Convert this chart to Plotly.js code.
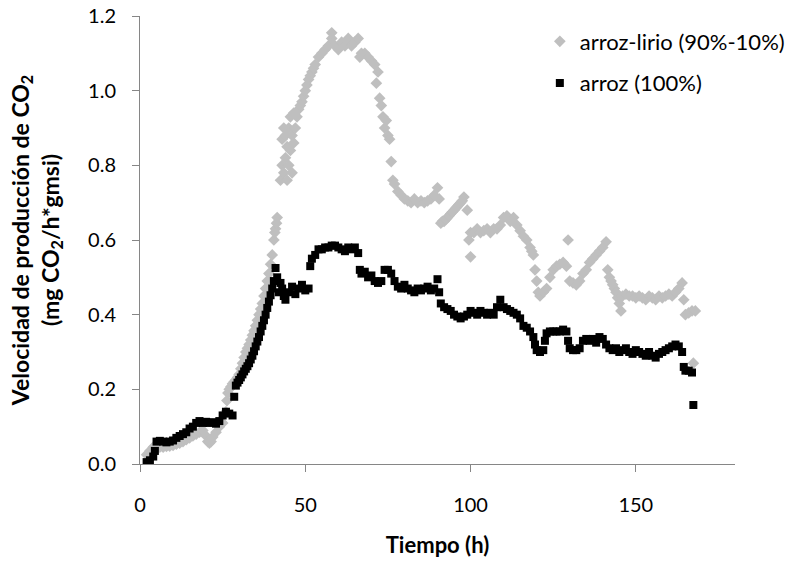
<!DOCTYPE html>
<html>
<head>
<meta charset="utf-8">
<script src="https://cdn.plot.ly/plotly-3.0.1.min.js"></script>
<style>html,body{margin:0;padding:0;background:#fff;}#chart{width:789px;height:567px;}</style>
</head>
<body>
<div id="chart"></div>
<script>
// arroz-lirio (90%-10%)
var lirioT = [2,3,4,5,6,7,8,9,10,11,12,13,14,15,16,17,18,19,20,20.5,21,21.5,22,23,24,25,26,26.3,26.6,27,27.5,28,28.5,29,29.5,30,30.5,31,31.5,32,32.5,33,33.5,34,34.5,35,35.5,36,36.5,37,37.5,38,38.5,39,39.5,40,40.5,40.8,41,41.3,41.5,
  42.5,43,43,43.5,43.5,44,44,44.5,44.5,45,45,45.5,45.5,46,46,46.5,46.5,47,47.5,48,48.5,49,49.5,50,50.5,51,51.5,52,52.5,53,54,55,56,57,58,58,59,60,61,62,63,64,65,66,66.5,67,68,69,70,71,71.5,72,72.5,73,73.5,74,74.5,75,75.5,76,76.5,
  77,78,79,80,81,82,83,84,85,86,87,88,89,90,90.5,91,91.5,92,92.5,93,93.5,94,94.5,95,95.5,96,96.5,97,97.5,98,99,99.5,100,100,101,102,103,104,105,106,107,108,109,110,111,112,113,114,115,116,117,118,118.5,119,119.5,120,120.5,121,122,123,124,125,126,127,128,129,129.5,
  130,131,132,133,134,135,136,137,138,139,140,141,141.5,142,142.5,143,143.5,144,144.5,145,145.5,146,147,148,149,150,151,152,153,154,155,156,157,158,159,160,161,162,163,164,164.5,165,166,167,168,167.4];
var lirioV = [0.025,0.035,0.045,0.045,0.045,0.045,0.047,0.048,0.05,0.053,0.056,0.06,0.065,0.07,0.075,0.08,0.085,0.09,0.075,0.06,0.056,0.06,0.072,0.085,0.1,0.11,0.14,0.17,0.19,0.2,0.207,0.215,0.22,0.225,0.232,0.24,0.255,0.27,0.285,0.3,0.31,0.32,0.332,0.345,0.357,0.37,0.385,0.4,0.415,0.43,0.45,0.47,0.49,0.51,0.535,0.56,0.6,0.62,0.63,0.645,0.66,
  0.76,0.8,0.87,0.78,0.9,0.82,0.88,0.76,0.85,0.8,0.9,0.84,0.93,0.78,0.88,0.86,0.94,0.9,0.93,0.95,0.96,0.97,0.985,1.0,1.015,1.03,1.04,1.05,1.06,1.07,1.09,1.1,1.11,1.12,1.14,1.155,1.12,1.11,1.13,1.12,1.14,1.12,1.13,1.14,1.09,1.1,1.1,1.09,1.08,1.07,1.02,1.05,0.98,0.96,0.93,0.9,0.92,0.88,0.87,0.81,0.76,
  0.75,0.73,0.72,0.71,0.705,0.7,0.71,0.7,0.705,0.7,0.705,0.71,0.72,0.74,0.71,0.645,0.65,0.65,0.655,0.66,0.665,0.67,0.675,0.68,0.685,0.69,0.695,0.7,0.705,0.715,0.68,0.6,0.62,0.555,0.62,0.63,0.62,0.625,0.63,0.62,0.63,0.63,0.64,0.66,0.665,0.65,0.66,0.64,0.625,0.61,0.6,0.58,0.57,0.56,0.52,0.49,0.46,0.45,0.46,0.47,0.5,0.52,0.53,0.535,0.54,0.53,0.6,
  0.49,0.485,0.48,0.49,0.51,0.52,0.54,0.55,0.56,0.57,0.58,0.595,0.52,0.5,0.49,0.48,0.47,0.46,0.445,0.43,0.41,0.45,0.455,0.45,0.45,0.445,0.45,0.445,0.44,0.45,0.445,0.44,0.45,0.445,0.45,0.455,0.45,0.46,0.47,0.485,0.44,0.4,0.405,0.41,0.41,0.27];

// arroz (100%)
var arrozT = [2,3,4,4.5,5,6,7,8,9,10,11,12,13,14,15,16,17,18,19,20,21,22,23,24,25,26,27,28,28.5,29,29.5,30,30.5,31,31.5,32,32.5,33,33.5,34,34.5,35,35.5,36,36.5,37,37.5,38,38.5,39,39.5,40,40.5,41,41.5,42,42.5,43,43.5,44,45,46,47,48,49,50,51,51.5,
  52,53,54,55,56,57,58,59,60,61,62,63,64,65,66,66.5,67,68,69,70,71,72,73,74,75,76,77,78,79,80,81,82,83,84,85,86,87,88,89,90,90.5,91,92,93,94,95,96,97,98,99,100,
  101,102,103,104,105,106,107,108,109,110,111,112,113,114,115,116,117,118,119,119.5,120,121,122,122.5,123,124,125,126,127,128,129,129.5,130,131,132,133,134,135,136,137,138,139,140,
  141,142,143,144,145,146,147,148,149,150,151,152,153,154,155,156,157,158,159,160,161,162,163,164,164.5,165,166,167,167.4];
var arrozV = [0.005,0.01,0.02,0.035,0.06,0.062,0.06,0.058,0.06,0.063,0.07,0.075,0.08,0.085,0.095,0.1,0.11,0.115,0.11,0.113,0.11,0.112,0.108,0.115,0.13,0.14,0.135,0.13,0.18,0.21,0.218,0.225,0.232,0.24,0.248,0.255,0.262,0.27,0.28,0.29,0.302,0.315,0.328,0.34,0.355,0.37,0.385,0.4,0.418,0.435,0.452,0.47,0.49,0.525,0.5,0.46,0.485,0.47,0.45,0.44,0.46,0.475,0.455,0.47,0.48,0.465,0.47,0.53,
  0.55,0.56,0.575,0.575,0.58,0.58,0.585,0.585,0.58,0.575,0.57,0.58,0.575,0.58,0.565,0.52,0.51,0.515,0.5,0.505,0.49,0.485,0.49,0.52,0.52,0.51,0.49,0.475,0.47,0.48,0.47,0.465,0.46,0.47,0.465,0.47,0.475,0.465,0.47,0.495,0.46,0.43,0.42,0.415,0.41,0.4,0.395,0.39,0.395,0.4,0.41,
  0.405,0.4,0.41,0.405,0.4,0.405,0.4,0.42,0.44,0.42,0.415,0.41,0.405,0.4,0.39,0.37,0.365,0.355,0.34,0.32,0.305,0.3,0.305,0.33,0.35,0.355,0.355,0.355,0.355,0.36,0.355,0.33,0.31,0.305,0.305,0.31,0.33,0.335,0.33,0.335,0.325,0.34,0.335,
  0.32,0.31,0.305,0.31,0.3,0.305,0.31,0.3,0.295,0.305,0.3,0.295,0.29,0.3,0.29,0.285,0.295,0.3,0.305,0.31,0.315,0.32,0.315,0.3,0.26,0.25,0.25,0.245,0.158];

var xTicks = [0,50,100,150];
var yTicks = [0.0,0.2,0.4,0.6,0.8,1.0,1.2];

var FONT = 'Lato, "Open Sans", sans-serif';
var AXC = '#868686';

var traces = [
  {x: lirioT, y: lirioV, type: 'scatter', mode: 'markers', name: 'arroz-lirio (90%-10%)', legendgroup: 'a',
   marker: {symbol: 'diamond', size: 9, color: '#BFBFBF'}},
  {x: arrozT, y: arrozV, type: 'scatter', mode: 'markers', name: 'arroz (100%)', legendgroup: 'b',
   marker: {symbol: 'square', size: 8, color: '#000000'}}
];

var layout = {
  width: 789, height: 567,
  margin: {l: 140, r: 54, t: 16, b: 103, autoexpand: false},
  paper_bgcolor: '#fff', plot_bgcolor: '#fff',
  font: {family: FONT, size: 20, color: '#000'},
  showlegend: true,
  legend: {x: 0.672, y: 0.99, xanchor: 'left', yanchor: 'top', bgcolor: 'rgba(0,0,0,0)',
           traceorder: 'grouped', tracegroupgap: 10, font: {family: FONT, size: 22, color: '#000'}},
  xaxis: {
    range: [0, 180], tickvals: xTicks, ticktext: xTicks.map(String),
    showgrid: false, zeroline: false, showline: true, linecolor: AXC, linewidth: 1,
    ticks: 'outside', ticklen: 7, tickcolor: AXC, ticklabelstandoff: 16,
    tickfont: {family: FONT, size: 20, color: '#000'},
    title: {text: '<b>Tiempo (h)</b>', font: {family: FONT, size: 22, color: '#000'}, standoff: 22}
  },
  yaxis: {
    range: [0, 1.2], tickvals: yTicks, ticktext: yTicks.map(function(v){return v.toFixed(1);}),
    showgrid: false, zeroline: false, showline: true, linecolor: AXC, linewidth: 1,
    ticks: 'outside', ticklen: 7, tickcolor: AXC, ticklabelstandoff: 12,
    tickfont: {family: FONT, size: 20, color: '#000'},
    title: {text: '<b>Velocidad de producción de CO<sub>2</sub></b><br><b>(mg CO<sub>2</sub>/h*gmsi)</b>',
            font: {family: FONT, size: 23, color: '#000'}, standoff: 22}
  }
};

Plotly.newPlot('chart', traces, layout, {displayModeBar: false, staticPlot: true});
</script>
</body>
</html>
